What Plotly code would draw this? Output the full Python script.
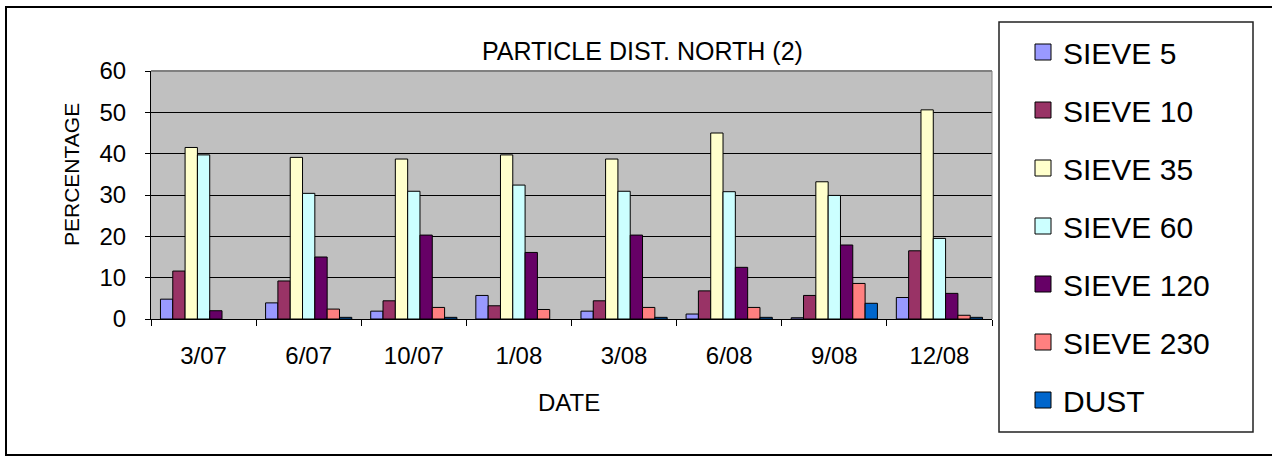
import plotly.graph_objects as go

# ---- data ----
dates = ["3/07", "6/07", "10/07", "1/08", "3/08", "6/08", "9/08", "12/08"]
sieve_5 = [4.8, 3.9, 1.9, 5.7, 1.9, 1.2, 0.3, 5.2]
sieve_10 = [11.6, 9.2, 4.4, 3.2, 4.4, 6.8, 5.7, 16.5]
sieve_35 = [41.5, 39.1, 38.7, 39.7, 38.7, 45.0, 33.2, 50.6]
sieve_60 = [39.7, 30.4, 30.9, 32.4, 30.9, 30.8, 29.9, 19.5]
sieve_120 = [2.0, 15.0, 20.3, 16.1, 20.3, 12.5, 17.9, 6.2]
sieve_230 = [None, 2.4, 2.8, 2.3, 2.8, 2.8, 8.6, 0.9]
dust = [None, 0.4, 0.4, None, 0.4, 0.4, 3.8, 0.4]

series_names = ["SIEVE 5", "SIEVE 10", "SIEVE 35", "SIEVE 60", "SIEVE 120", "SIEVE 230", "DUST"]
series_values = [sieve_5, sieve_10, sieve_35, sieve_60, sieve_120, sieve_230, dust]
colors = ["#9999FF", "#993366", "#FFFFCC", "#CCFFFF", "#660066", "#FF8080", "#0066CC"]

y_ticks = [0, 10, 20, 30, 40, 50, 60]

# ---- layout geometry (pixels) ----
W, H = 1272, 462
L, R, T, B = 151, 992, 71, 319


def px(x):
    return (x - L) / (R - L)


def py(y):
    return (B - y) / (B - T)


FONT = "Arial, 'Liberation Sans', sans-serif"

fig = go.Figure()
for name, vals, c in zip(series_names, series_values, colors):
    fig.add_trace(go.Bar(
        x=dates, y=vals, name=name,
        marker=dict(color=c, line=dict(color="black", width=1)),
        showlegend=False,
    ))

# legend entries (square swatches)
for name, c in zip(series_names, colors):
    fig.add_trace(go.Scatter(
        x=[None], y=[None], mode="markers", name=name, legendgroup=name,
        marker=dict(symbol="square", size=16, color=c, line=dict(color="black", width=1)),
        showlegend=True, hoverinfo="skip",
    ))

fig.update_layout(
    width=W, height=H,
    margin=dict(l=L, r=W - R, t=T, b=H - B, pad=0),
    paper_bgcolor="white",
    plot_bgcolor="#C0C0C0",
    barmode="group", bargap=0.18, bargroupgap=0,
    font=dict(family=FONT, color="black", size=24),
    showlegend=True,
    legend=dict(
        x=px(1023), y=py(26), xanchor="left", yanchor="top",
        bgcolor="rgba(0,0,0,0)", borderwidth=0,
        font=dict(family=FONT, size=30, color="black"),
        traceorder="grouped", tracegroupgap=16,
        maxheight=440,
    ),
    xaxis=dict(
        type="category", showline=True, linecolor="black", linewidth=1,
        ticks="outside", ticklen=6, tickcolor="black", tickwidth=1,
        tickson="boundaries", showgrid=False, zeroline=False,
        ticklabelstandoff=15, tickfont=dict(size=24),
        fixedrange=True,
    ),
    yaxis=dict(
        range=[0, 60], tickvals=y_ticks, showline=True, linecolor="black", linewidth=1,
        ticks="outside", ticklen=5, tickcolor="black", tickwidth=1,
        showgrid=True, gridcolor="black", gridwidth=1, zeroline=False,
        ticklabelstandoff=14, tickfont=dict(size=24),
        fixedrange=True,
    ),
    shapes=[
        # plot-area top and right border (gray)
        dict(type="line", xref="paper", yref="paper", x0=0, x1=1, y0=1, y1=1,
             line=dict(color="#808080", width=2)),
        dict(type="line", xref="paper", yref="paper", x0=1, x1=1, y0=0, y1=1,
             line=dict(color="#808080", width=1)),
        # outer chart frame
        dict(type="rect", xref="paper", yref="paper",
             x0=px(6), x1=px(1290), y0=py(455), y1=py(7),
             line=dict(color="black", width=2), layer="below"),
        # legend box
        dict(type="rect", xref="paper", yref="paper",
             x0=px(999), x1=px(1253), y0=py(432), y1=py(22),
             line=dict(color="#222222", width=1.5), fillcolor="white", layer="below"),
    ],
    annotations=[
        dict(text="PARTICLE DIST. NORTH (2)", xref="paper", yref="paper",
             x=px(642), y=py(51), xanchor="center", yanchor="middle",
             showarrow=False, font=dict(family=FONT, size=25, color="black")),
        dict(text="DATE", xref="paper", yref="paper",
             x=px(569), y=py(402), xanchor="center", yanchor="middle",
             showarrow=False, font=dict(family=FONT, size=24, color="black")),
        dict(text="PERCENTAGE", xref="paper", yref="paper",
             x=px(71), y=py(175), xanchor="center", yanchor="middle", textangle=-90,
             showarrow=False, font=dict(family=FONT, size=21, color="black")),
    ],
)

fig.write_html("out.html", config={"displayModeBar": False})
